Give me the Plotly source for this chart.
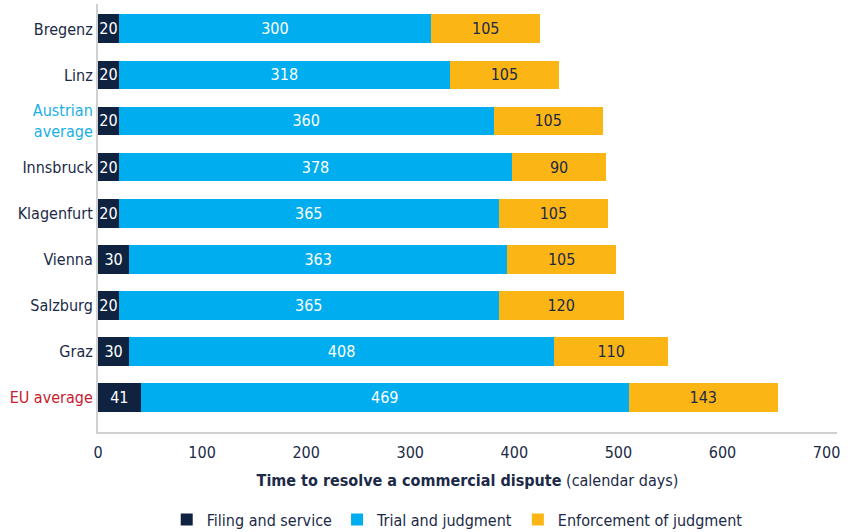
import plotly.graph_objects as go

# Cities ordered top to bottom
cities = ["Bregenz", "Linz", "Austrian average", "Innsbruck", "Klagenfurt",
          "Vienna", "Salzburg", "Graz", "EU average"]
city_labels = [
    "Bregenz",
    "Linz",
    "<span style='color:#1aafe6'>Austrian<br>average</span>",
    "Innsbruck",
    "Klagenfurt",
    "Vienna",
    "Salzburg",
    "Graz",
    "<span style='color:#c8202f'>EU average</span>",
]

filing = [20, 20, 20, 20, 20, 30, 20, 30, 41]
trial = [300, 318, 360, 378, 365, 363, 365, 408, 469]
enforcement = [105, 105, 105, 90, 105, 105, 120, 110, 143]

x_ticks = [0, 100, 200, 300, 400, 500, 600, 700]

NAVY = "#0f2341"
BLUE = "#00adef"
GOLD = "#fbb615"
TEXT = "#1b2a47"
FONT = "DejaVu Sans Condensed, Roboto, sans-serif"
SIZE = 16

series = [
    ("Filing and service", filing, NAVY, "white"),
    ("Trial and judgment", trial, BLUE, "white"),
    ("Enforcement of judgment", enforcement, GOLD, TEXT),
]

fig = go.Figure()
for name, vals, color, txt_color in series:
    fig.add_trace(go.Bar(
        name=name,
        y=cities,
        x=vals,
        orientation="h",
        marker=dict(color=color, line=dict(width=0)),
        width=0.63,
        text=[str(v) for v in vals],
        textposition="inside",
        insidetextanchor="middle",
        constraintext="none",
        textfont=dict(color=txt_color, size=SIZE, family=FONT),
        hoverinfo="x+name",
    ))

fig.update_layout(
    barmode="stack",
    width=851,
    height=532,
    margin=dict(l=98, r=14, t=4, b=100, autoexpand=False),
    paper_bgcolor="white",
    plot_bgcolor="white",
    font=dict(family=FONT, size=SIZE, color=TEXT),
    showlegend=True,
    legend=dict(
        orientation="h",
        x=0.093, xanchor="left",
        y=-0.165, yanchor="top",
        font=dict(size=SIZE, color=TEXT),
        traceorder="normal",
        itemwidth=30,
        tracegroupgap=0,
    ),
    xaxis=dict(
        range=[0, 710],
        tickvals=x_ticks,
        ticktext=[str(t) for t in x_ticks],
        showgrid=False,
        zeroline=False,
        showline=True,
        linecolor="#d0d0d0",
        linewidth=2,
        ticks="",
        ticklabelstandoff=5,
        automargin=False,
        tickfont=dict(size=SIZE, color=TEXT),
        title=dict(
            text="<b>Time to resolve a commercial dispute</b> (calendar days)",
            font=dict(size=SIZE, color=TEXT),
            standoff=14,
        ),
    ),
    yaxis=dict(
        categoryorder="array",
        categoryarray=cities,
        tickvals=cities,
        ticktext=city_labels,
        range=[8.76, -0.543],
        showgrid=False,
        zeroline=False,
        showline=True,
        linecolor="#d0d0d0",
        linewidth=2,
        ticks="",
        automargin=False,
        tickfont=dict(size=SIZE, color=TEXT),
    ),
)

fig.write_html("out.html")
